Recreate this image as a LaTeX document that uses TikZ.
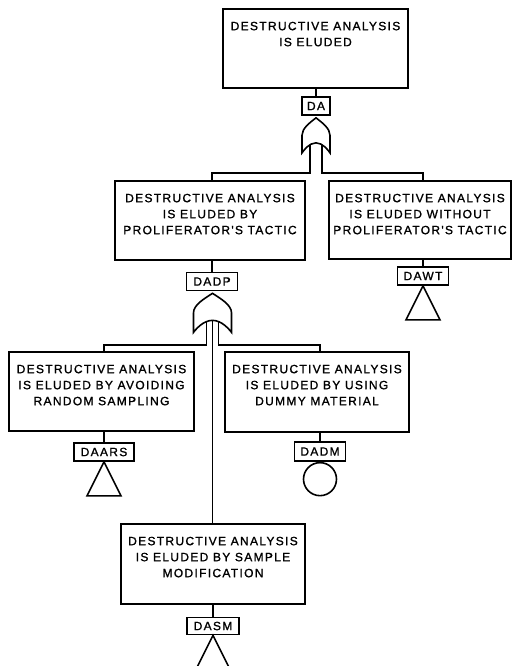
\documentclass[tikz,border=0pt]{standalone}
\usepackage{fontspec}
\newfontfamily\evfamily{Liberation Sans}[LetterSpace=11, FakeBold=1.2]
\newcommand\evfont{\evfamily\fontsize{12}{16}\selectfont}
% event text: fixed-height box, lines set from the top
\newcommand\evlines[3]{\parbox[c][#2][t]{#1}{\centering\vspace*{12.8pt}#3\par}}
\begin{document}
\begin{tikzpicture}[x=1pt,y=-1pt,
  every node/.style={font=\evfont},
  event/.style={draw, line width=1.7pt, inner sep=0pt},
  tag/.style={draw, line width=1.7pt, inner sep=0pt, minimum height=18pt},
  wire/.style={line width=1.6pt},
  gate/.style={line width=1.6pt, fill=white},
  % OR gate, apex at the origin: #1 half width, #2 height, #3 rise of the
  % bottom arc, #4/#5 x offsets of the left/right input legs
  pics/orgate/.style n args={5}{code={
    \draw[gate] (-#1,#2) -- (-#1,{0.5*#2})
      .. controls (-#1,{0.3*#2}) and ({-0.45*#1},{0.14*#2}) .. (0,0)
      .. controls ({0.45*#1},{0.14*#2}) and (#1,{0.3*#2}) .. (#1,{0.5*#2})
      -- (#1,#2) parabola bend (0,{#2-#3}) (-#1,#2) -- cycle;
    \coordinate (-l) at (#4,{#2-#3*(1-(#4/#1)^2)});
    \coordinate (-r) at (#5,{#2-#3*(1-(#5/#1)^2)});
    \coordinate (-c) at (0,{#2-#3});
  }}
]
\useasboundingbox (0,0) rectangle (512,666);

% events
\node[event] (top) at (315.5,48.5) {\evlines{185pt}{79pt}{DESTRUCTIVE ANALYSIS\\IS ELUDED}};
\node[event] (evL) at (210,220.5) {\evlines{190pt}{79pt}{DESTRUCTIVE ANALYSIS\\IS ELUDED BY\\PROLIFERATOR'S TACTIC}};
\node[event] (evR) at (420,220) {\evlines{182pt}{78pt}{DESTRUCTIVE ANALYSIS\\IS ELUDED WITHOUT\\PROLIFERATOR'S TACTIC}};
\node[event] (evA) at (101.5,391.5) {\evlines{185pt}{79pt}{DESTRUCTIVE ANALYSIS\\IS ELUDED BY AVOIDING\\RANDOM SAMPLING}};
\node[event] (evM) at (317,392) {\evlines{184pt}{80pt}{DESTRUCTIVE ANALYSIS\\IS ELUDED BY USING\\DUMMY MATERIAL}};
\node[event] (evS) at (213,564) {\evlines{184pt}{80pt}{DESTRUCTIVE ANALYSIS\\IS ELUDED BY SAMPLE\\MODIFICATION}};

% identifiers
\node[tag, minimum width=28pt] (da) at (316,106) {DA};
\node[tag, minimum width=51pt] (dadp) at (212,281.5) {DADP};
\node[tag, minimum width=51pt] (dawt) at (423,276) {DAWT};
\node[tag, minimum width=60pt] (daars) at (104,452) {DAARS};
\node[tag, minimum width=51pt, minimum height=19pt] (dadm) at (320,451.5) {DADM};
\node[tag, minimum width=52pt, minimum height=17pt] (dasm) at (213,626) {DASM};

% bus levels below the gates
\coordinate (bus1) at (0,173);
\coordinate (bus2) at (0,345);

% gates
\pic (g1) at ([yshift=-2pt]da.south) {orgate={14}{35}{10}{-6}{6}};
\pic (g2) at ([yshift=-2pt,xshift=0.5pt]dadp.south) {orgate={19}{39}{12}{-6}{6}};

% events to identifiers
\draw[wire] (da.north) -- (da.north |- top.south);
\draw[wire] (dadp.north) -- (dadp.north |- evL.south);
\draw[wire] (dawt.north) -- (dawt.north |- evR.south);
\draw[wire] (daars.north) -- (daars.north |- evA.south);
\draw[wire] (dadm.north) -- (dadm.north |- evM.south);
\draw[wire] (dasm.north) -- (dasm.north |- evS.south);

% gate inputs
\draw[wire] (g1-l) |- (bus1 -| dadp) -- (dadp |- evL.north);
\draw[wire] (g1-r) |- (bus1 -| dawt) -- (dawt |- evR.north);
\draw[wire] (g2-l) |- (bus2 -| daars) -- (daars |- evA.north);
\draw[wire] (g2-r) |- (bus2 -| dadm) -- (dadm |- evM.north);
\draw[wire] (g2-c) -- (g2-c |- evS.north);

% transfer and basic event symbols
\draw[wire] (dawt.south) -- ++(-17,34) -- ++(34,0) -- cycle;
\draw[wire] (daars.south) -- ++(-17,34) -- ++(34,0) -- cycle;
\draw[wire] (dasm.south) -- ++(-17,34) -- ++(34,0) -- cycle;
\node[draw, circle, line width=1.6pt, inner sep=0pt, minimum size=33pt, anchor=north] (dadmc) at (dadm.south) {};
\end{tikzpicture}
\end{document}
